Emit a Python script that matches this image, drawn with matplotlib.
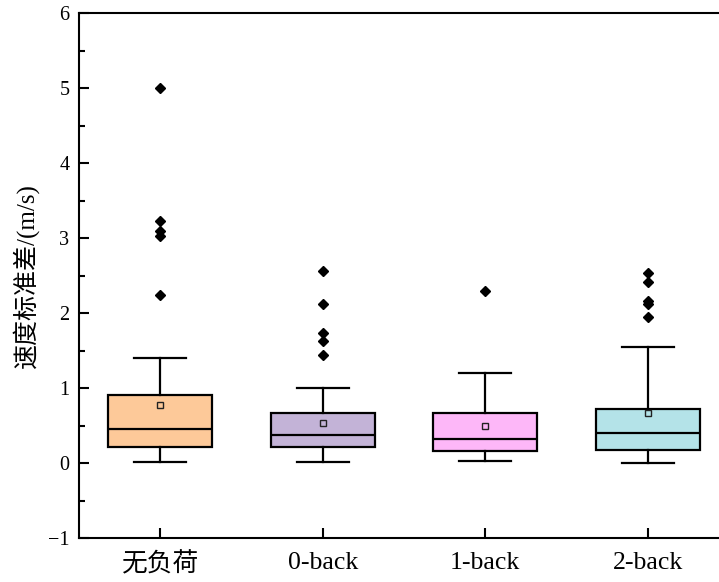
import numpy as np
import matplotlib
matplotlib.use("Agg")
import matplotlib.pyplot as plt
from matplotlib.ticker import MultipleLocator

plt.rcParams['font.family'] = ['Liberation Serif', 'Noto Sans CJK SC']
plt.rcParams['axes.unicode_minus'] = True

# groups and their box statistics (m/s)
groups = ['无负荷', '0-back', '1-back', '2-back']
whislo = [0.02, 0.01, 0.03, 0.00]
q1 = [0.22, 0.22, 0.16, 0.17]
med = [0.46, 0.37, 0.32, 0.40]
q3 = [0.91, 0.67, 0.67, 0.72]
whishi = [1.40, 1.00, 1.20, 1.55]
means = [0.77, 0.54, 0.49, 0.67]
fliers = [
    [5.00, 3.22, 3.09, 3.03, 2.24],
    [2.56, 2.12, 1.73, 1.63, 1.44],
    [2.29],
    [2.53, 2.42, 2.16, 2.12, 1.95],
]
colors = ['#FDC999', '#C3B3D7', '#FDB7F8', '#B4E3E8']

stats = []
for i in range(len(groups)):
    stats.append(dict(label=groups[i], whislo=whislo[i], q1=q1[i], med=med[i],
                      q3=q3[i], whishi=whishi[i], mean=means[i],
                      fliers=np.array(fliers[i])))

fig = plt.figure(figsize=(7.19, 5.82), dpi=100)
ax = fig.add_axes([79/719, 44/582, 650/719, 525/582])

lw = 1.6
bp = ax.bxp(stats, positions=np.arange(1, 5), widths=0.64, capwidths=0.32,
            patch_artist=True, showmeans=True,
            boxprops=dict(linewidth=lw, edgecolor='black'),
            medianprops=dict(color='black', linewidth=lw),
            whiskerprops=dict(color='black', linewidth=lw),
            capprops=dict(color='black', linewidth=lw),
            meanprops=dict(marker='s', markersize=5, markerfacecolor='none',
                           markeredgecolor='#222222', markeredgewidth=1.0),
            flierprops=dict(marker='D', markersize=5.5, markerfacecolor='black',
                            markeredgecolor='black'))
for patch, c in zip(bp['boxes'], colors):
    patch.set_facecolor(c)
for m, c in zip(bp['means'], colors):
    m.set_markerfacecolor(c)

ax.set_xlim(0.5, 4.5)
ax.set_ylim(-1, 6)
ax.yaxis.set_major_locator(MultipleLocator(1))
ax.yaxis.set_minor_locator(MultipleLocator(0.5))
ax.tick_params(axis='both', which='major', direction='in', length=7.2, width=1.5)
ax.tick_params(axis='y', which='minor', direction='in', length=4, width=1.5)
ax.tick_params(axis='y', labelsize=14.5, pad=7)
ax.tick_params(axis='x', labelsize=18.5, pad=10)
ax.tick_params(axis='y', which='both', right=False)
ax.tick_params(axis='x', which='both', top=False)
for s in ax.spines.values():
    s.set_linewidth(1.5)

ax.set_ylabel('速度标准差/(m/s)', fontsize=18, labelpad=6)

fig.savefig('out.png', dpi=100)
